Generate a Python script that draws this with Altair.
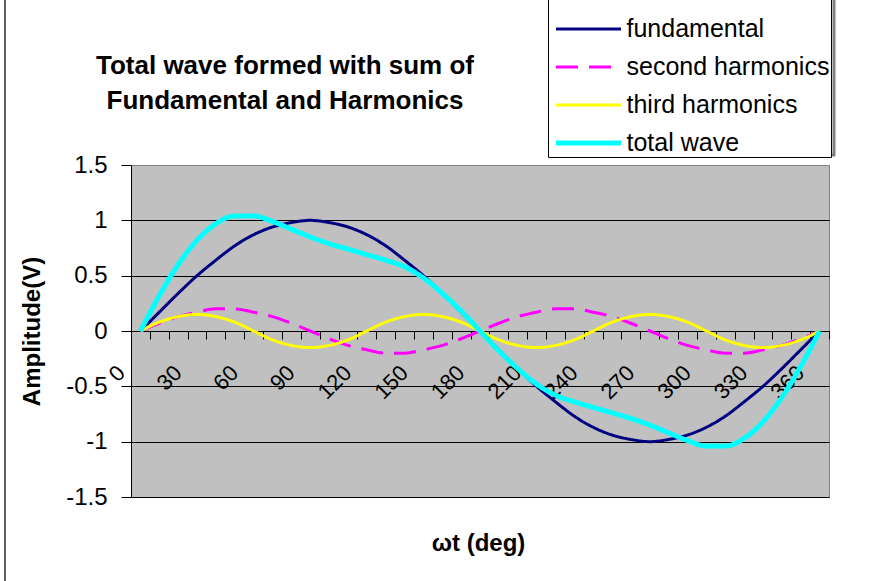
import altair as alt
import pandas as pd

angles = [0, 10, 20, 30, 40, 50, 60, 70, 80, 90, 100, 110, 120, 130, 140, 150, 160, 170, 180,
          190, 200, 210, 220, 230, 240, 250, 260, 270, 280, 290, 300, 310, 320, 330, 340, 350, 360]
fundamental = [0.00, 0.17, 0.34, 0.50, 0.64, 0.77, 0.87, 0.94, 0.98, 1.00, 0.98, 0.94, 0.87,
               0.77, 0.64, 0.50, 0.34, 0.17, 0.00, -0.17, -0.34, -0.50, -0.64, -0.77, -0.87,
               -0.94, -0.98, -1.00, -0.98, -0.94, -0.87, -0.77, -0.64, -0.50, -0.34, -0.17, 0.00]
second = [0.00, 0.07, 0.13, 0.17, 0.20, 0.20, 0.17, 0.13, 0.07, 0.00, -0.07, -0.13, -0.17,
          -0.20, -0.20, -0.17, -0.13, -0.07, 0.00, 0.07, 0.13, 0.17, 0.20, 0.20, 0.17, 0.13,
          0.07, 0.00, -0.07, -0.13, -0.17, -0.20, -0.20, -0.17, -0.13, -0.07, 0.00]
third = [0.00, 0.08, 0.13, 0.15, 0.13, 0.08, 0.00, -0.08, -0.13, -0.15, -0.13, -0.08, 0.00,
         0.08, 0.13, 0.15, 0.13, 0.08, 0.00, -0.08, -0.13, -0.15, -0.13, -0.08, 0.00, 0.08,
         0.13, 0.15, 0.13, 0.08, 0.00, -0.08, -0.13, -0.15, -0.13, -0.08, 0.00]
total = [0.00, 0.32, 0.60, 0.82, 0.97, 1.04, 1.04, 0.99, 0.92, 0.85, 0.79, 0.74, 0.69,
         0.64, 0.58, 0.48, 0.34, 0.18, 0.00, -0.18, -0.34, -0.48, -0.58, -0.64, -0.69, -0.74,
         -0.79, -0.85, -0.92, -0.99, -1.04, -1.04, -0.97, -0.82, -0.60, -0.32, 0.00]

series_names = ["fundamental", "second harmonics", "third harmonics", "total wave"]
series_colors = ["#000080", "#FF00FF", "#FFFF00", "#00FFFF"]
series_widths = [3, 3, 3, 5]
series_dashes = [[1, 0], [22, 11], [1, 0], [1, 0]]
x_label_values = [0, 30, 60, 90, 120, 150, 180, 210, 240, 270, 300, 330, 360]
y_ticks = [-1.5, -1.0, -0.5, 0.0, 0.5, 1.0, 1.5]
title_lines = ["Total wave formed with sum of", "Fundamental and Harmonics"]

rows = []
for name, vals, sw in zip(series_names, [fundamental, second, third, total], series_widths):
    for a, v in zip(angles, vals):
        rows.append({"angle": a, "value": v, "series": name, "sw": sw})
df = pd.DataFrame(rows)

W, H = 698, 332
# category boundaries (each category is 10 degrees wide)
tick_bounds = [a - 5 for a in angles] + [angles[-1] + 5]
label_list = ",".join(str(v) for v in x_label_values)
x_label_expr = f"indexof([{label_list}], datum.value + 5) >= 0 ? '' + (datum.value + 5) : ''"

legend = alt.Legend(
    orient="none", legendX=417, legendY=-180, title=" ", titleFontSize=1, titlePadding=30,
    symbolType="stroke", symbolSize=4225, symbolOffset=5.5, labelOffset=4, clipHeight=24,
    rowPadding=13, padding=1, labelFontSize=25, labelColor="black", strokeColor="black",
    fillColor="white", labelLimit=400,
    symbolStrokeWidth=alt.ExprRef(expr="(datum.value == 'total wave' ? 5 : 3)"),
)

lines = alt.Chart(df).mark_line(interpolate="monotone").encode(
    x=alt.X("angle:Q", scale=alt.Scale(domain=[-5, 365], nice=False, zero=False),
            axis=alt.Axis(values=tick_bounds, labelExpr=x_label_expr, labelAngle=315,
                          labelAlign="right", labelBaseline="middle", labelOffset=-10,
                          labelPadding=30, tickSize=8, tickColor="black", domainColor="black",
                          labelFontSize=22, labelColor="black", grid=False, offset=-166,
                          labelOverlap=False, labelFlush=False, labelBound=False,
                          title="ωt (deg)", titleFontSize=24, titleFontWeight="bold",
                          titleColor="black", titleX=347, titleY=212, titleAlign="center",
                          titleBaseline="middle", titleAnchor="middle")),
    y=alt.Y("value:Q", scale=alt.Scale(domain=[-1.5, 1.5], nice=False, zero=False),
            axis=alt.Axis(values=y_ticks, labelExpr="'' + datum.value", tickSize=10,
                          labelPadding=14, labelFontSize=24, labelColor="black",
                          tickColor="black", domainColor="black", grid=True,
                          gridColor={"condition": {"test": "datum.value == 1.5", "value": "#808080"},
                                     "value": "black"},
                          gridWidth=1, labelOverlap=False, labelFlush=False,
                          title="Amplitude(V)", titleFontSize=24, titleFontWeight="bold",
                          titleColor="black", titleAngle=270, titleX=-99, titleY=166,
                          titleAlign="center", titleBaseline="middle")),
    color=alt.Color("series:N", scale=alt.Scale(domain=series_names, range=series_colors),
                    legend=legend),
    strokeDash=alt.StrokeDash("series:N", scale=alt.Scale(domain=series_names, range=series_dashes),
                              legend=legend),
    strokeWidth=alt.StrokeWidth("sw:Q", scale=None, legend=None),
)

one = pd.DataFrame({"k": [0]})
border = alt.Chart(one).mark_rule(color="#606060", strokeWidth=2).encode(
    x=alt.value(-126), y=alt.value(-170), y2=alt.value(420)
)
shadow_bottom = alt.Chart(one).mark_rule(color="#808080", strokeWidth=3).encode(
    x=alt.value(420), x2=alt.value(704), y=alt.value(-10)
)
shadow_right = alt.Chart(one).mark_rule(color="#808080", strokeWidth=3).encode(
    x=alt.value(703), y=alt.value(-170), y2=alt.value(-9)
)

chart = alt.layer(lines, border, shadow_bottom, shadow_right).properties(
    width=W, height=H,
    autosize=alt.AutoSizeParams(type="none"),
    padding={"left": 131, "top": 165, "right": 56, "bottom": 84},
    title=alt.TitleParams(text=title_lines, fontSize=26, fontWeight="bold", color="black",
                          anchor="middle", frame="group", dx=-195, offset=0, dy=155,
                          baseline="bottom", lineHeight=35),
    background="white",
).configure(font="Liberation Sans").configure_view(
    fill="#C0C0C0", stroke="#808080", strokeWidth=1
)

chart.save("out.html", embed_options={"renderer": "svg", "actions": False})
